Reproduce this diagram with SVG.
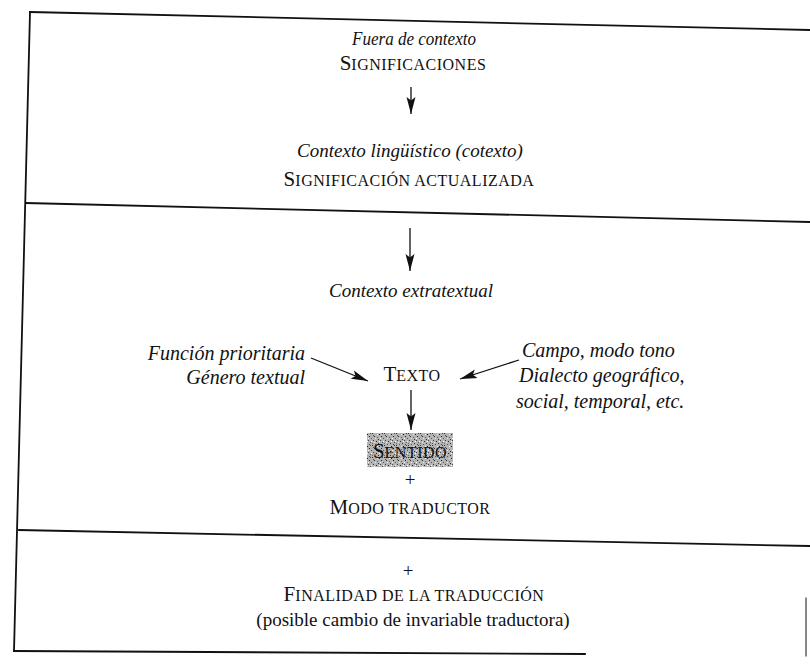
<svg xmlns="http://www.w3.org/2000/svg" width="810" height="664" viewBox="0 0 810 664">
<style>
  text { font-family: "Liberation Serif", "Times New Roman", serif; fill: #111; }
  .it { font-style: italic; font-size: 19px; }
  .it2 { font-style: italic; font-size: 20px; }
  .rg { font-size: 19px; }
  .cap { font-size: 21px; }
  .sm { font-size: 16px; letter-spacing: 0.5px; }
  .frame { stroke: #111; stroke-width: 1.8; fill: none; stroke-linecap: square; }
  .conn { stroke: #111; stroke-width: 1.3; fill: none; }
</style>
<defs>
  <marker id="ah" markerUnits="userSpaceOnUse" markerWidth="18" markerHeight="10" refX="17" refY="5" orient="auto">
    <path d="M0,0.5 L17,5 L0,9.5 L3.5,5 Z" fill="#111"/>
  </marker>
  <pattern id="stip" width="12" height="12" patternUnits="userSpaceOnUse">
    <rect width="12" height="12" fill="#b4b4b4"/>
    <rect x="0" y="1" width="1" height="1" fill="#333"/>
    <rect x="3" y="0" width="1" height="1" fill="#555"/>
    <rect x="7" y="2" width="1" height="1" fill="#222"/>
    <rect x="10" y="1" width="1" height="1" fill="#444"/>
    <rect x="2" y="4" width="1" height="1" fill="#333"/>
    <rect x="5" y="5" width="1" height="1" fill="#666"/>
    <rect x="9" y="4" width="1" height="1" fill="#222"/>
    <rect x="11" y="6" width="1" height="1" fill="#555"/>
    <rect x="1" y="8" width="1" height="1" fill="#444"/>
    <rect x="4" y="9" width="1" height="1" fill="#222"/>
    <rect x="8" y="8" width="1" height="1" fill="#444"/>
    <rect x="6" y="11" width="1" height="1" fill="#333"/>
    <rect x="10" y="10" width="1" height="1" fill="#555"/>
    <rect x="0" y="11" width="1" height="1" fill="#666"/>
    <rect x="6" y="7" width="1" height="1" fill="#333"/>
    <rect x="1" y="3" width="1" height="1" fill="#555"/>
    <rect x="9" y="0" width="1" height="1" fill="#444"/>
    <rect x="3" y="6" width="1" height="1" fill="#eee"/>
    <rect x="8" y="6" width="1" height="1" fill="#fff"/>
    <rect x="5" y="2" width="1" height="1" fill="#eee"/>
    <rect x="11" y="9" width="1" height="1" fill="#fff"/>
    <rect x="2" y="10" width="1" height="1" fill="#eee"/>
    <rect x="7" y="9" width="1" height="1" fill="#fff"/>
  </pattern>
</defs>
<rect width="810" height="664" fill="#fff"/>

<g id="frame">
  <line class="frame" x1="30" y1="12" x2="810" y2="30"/>
  <line class="frame" x1="30" y1="12" x2="14" y2="651"/>
  <line class="frame" x1="26" y1="203" x2="810" y2="222"/>
  <line class="frame" x1="19" y1="530" x2="810" y2="546"/>
  <line class="frame" x1="14" y1="651" x2="585" y2="654"/>
  <line class="frame" x1="806" y1="598" x2="806" y2="656" style="stroke-width:1"/>
</g>

<g id="fuera-de-contexto">
  <text class="it" x="414" y="45" text-anchor="middle" textLength="124" lengthAdjust="spacingAndGlyphs">Fuera de contexto</text>
  <text x="413" y="70" text-anchor="middle"><tspan class="cap">S</tspan><tspan class="sm">IGNIFICACIONES</tspan></text>
</g>

<g id="contexto-linguistico">
  <text class="it" x="410" y="157" text-anchor="middle">Contexto lingüístico (cotexto)</text>
  <text x="409" y="186" text-anchor="middle"><tspan class="cap">S</tspan><tspan class="sm">IGNIFICACIÓN ACTUALIZADA</tspan></text>
</g>

<g id="contexto-extratextual">
  <text class="it" x="411" y="297" text-anchor="middle">Contexto extratextual</text>
</g>

<g id="funcion">
  <text class="it2" x="305" y="360" text-anchor="end">Función prioritaria</text>
  <text class="it2" x="305" y="384" text-anchor="end">Género textual</text>
</g>

<g id="texto">
  <text x="412" y="381" text-anchor="middle"><tspan class="cap">T</tspan><tspan class="sm">EXTO</tspan></text>
</g>

<g id="campo">
  <text class="it2" x="522" y="357">Campo, modo tono</text>
  <text class="it2" x="519" y="382">Dialecto geográfico,</text>
  <text class="it2" x="516" y="408">social, temporal, etc.</text>
</g>

<g id="sentido">
  <rect x="367" y="433" width="86" height="34" fill="url(#stip)"/>
  <text x="410" y="458" text-anchor="middle"><tspan class="cap">S</tspan><tspan class="sm">ENTIDO</tspan></text>
  <text class="rg" x="410" y="486" text-anchor="middle">+</text>
  <text x="410" y="514" text-anchor="middle"><tspan class="cap">M</tspan><tspan class="sm">ODO TRADUCTOR</tspan></text>
</g>

<g id="finalidad">
  <text class="rg" x="408" y="577" text-anchor="middle">+</text>
  <text x="414" y="601" text-anchor="middle"><tspan class="cap">F</tspan><tspan class="sm">INALIDAD DE LA TRADUCCIÓN</tspan></text>
  <text class="rg" x="413" y="626" text-anchor="middle">(posible cambio de invariable traductora)</text>
</g>

<g id="connectors">
  <line class="conn" x1="411" y1="87" x2="411" y2="114" marker-end="url(#ah)"/>
  <line class="conn" x1="410" y1="228" x2="410" y2="271" marker-end="url(#ah)"/>
  <line class="conn" x1="311" y1="358" x2="368" y2="381" marker-end="url(#ah)"/>
  <line class="conn" x1="519" y1="360" x2="460" y2="379" marker-end="url(#ah)"/>
  <line class="conn" x1="411" y1="390" x2="411" y2="430" marker-end="url(#ah)"/>
</g>
</svg>
